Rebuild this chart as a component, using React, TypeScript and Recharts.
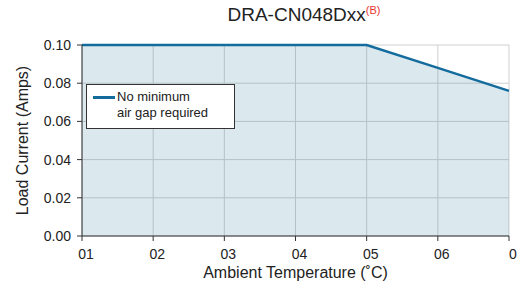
import React from "react";
import { AreaChart, Area, XAxis, YAxis, CartesianGrid } from "recharts";

const temps = ["01", "02", "03", "04", "05", "06", "0"];
const loadCurrent = [0.1, 0.1, 0.1, 0.1, 0.1, 0.088, 0.076];
const yTicks = [0, 0.02, 0.04, 0.06, 0.08, 0.1];

const data = temps.map((t, i) => ({ t, current: loadCurrent[i] }));

const LINE = "#146c9d";
const FONT = "'Liberation Sans', Arial, sans-serif";

function LegendBox() {
    return (
        <div
            style={{
                position: "absolute",
                left: 86,
                top: 84,
                width: 149,
                height: 45,
                border: "1px solid #333",
                background: "#fff",
                boxSizing: "border-box",
                fontFamily: FONT,
                fontSize: 13,
                color: "#222",
            }}
        >
            <div style={{ position: "absolute", left: 6, top: 11, width: 22, height: 3, background: LINE }} />
            <div style={{ position: "absolute", left: 30, top: 4, lineHeight: "16px" }}>
                No minimum
                <br />
                air gap required
            </div>
        </div>
    );
}

export default function App() {
    return (
        <div style={{ position: "absolute", left: 0, top: 0, width: 522, height: 288, background: "#fff" }}>
            <div
                style={{
                    position: "absolute",
                    left: 0,
                    width: 522,
                    top: 4,
                    textAlign: "center",
                    paddingLeft: 86,
                    boxSizing: "border-box",
                    fontFamily: FONT,
                    fontSize: 19,
                    color: "#222",
                }}
            >
                DRA-CN048Dxx
                <sup style={{ color: "#e8332e", fontSize: 11, verticalAlign: "7px" }}>(B)</sup>
            </div>
            <AreaChart
                width={522}
                height={288}
                data={data}
                margin={{ top: 45, right: 13, bottom: 6, left: 22 }}
                style={{ fontFamily: FONT }}
            >
                <CartesianGrid stroke="#cfcfcf" strokeWidth={1} />
                <XAxis
                    dataKey="t"
                    height={46}
                    stroke="#333"
                    tickSize={5}
                    tickMargin={8}
                    tick={{ fontSize: 14, fill: "#222", dx: 4 }}
                    interval={0}
                    label={{
                        value: "Ambient Temperature (˚C)",
                        position: "insideBottom",
                        offset: 4,
                        style: { fontSize: 16, fill: "#222" },
                    }}
                />
                <YAxis
                    width={60}
                    domain={[0, 0.1]}
                    ticks={yTicks}
                    stroke="#333"
                    tickSize={5}
                    tickMargin={6}
                    tick={{ fontSize: 14, fill: "#222" }}
                    tickFormatter={(v: number) => v.toFixed(2)}
                    label={{
                        value: "Load Current (Amps)",
                        angle: -90,
                        position: "insideLeft",
                        offset: 0,
                        style: { fontSize: 16, fill: "#222", textAnchor: "middle" },
                    }}
                />
                <Area
                    type="linear"
                    dataKey="current"
                    stroke={LINE}
                    strokeWidth={2.5}
                    fill="#4a8cab"
                    fillOpacity={0.2}
                    dot={false}
                    activeDot={false}
                    isAnimationActive={false}
                />
            </AreaChart>
            <LegendBox />
        </div>
    );
}
